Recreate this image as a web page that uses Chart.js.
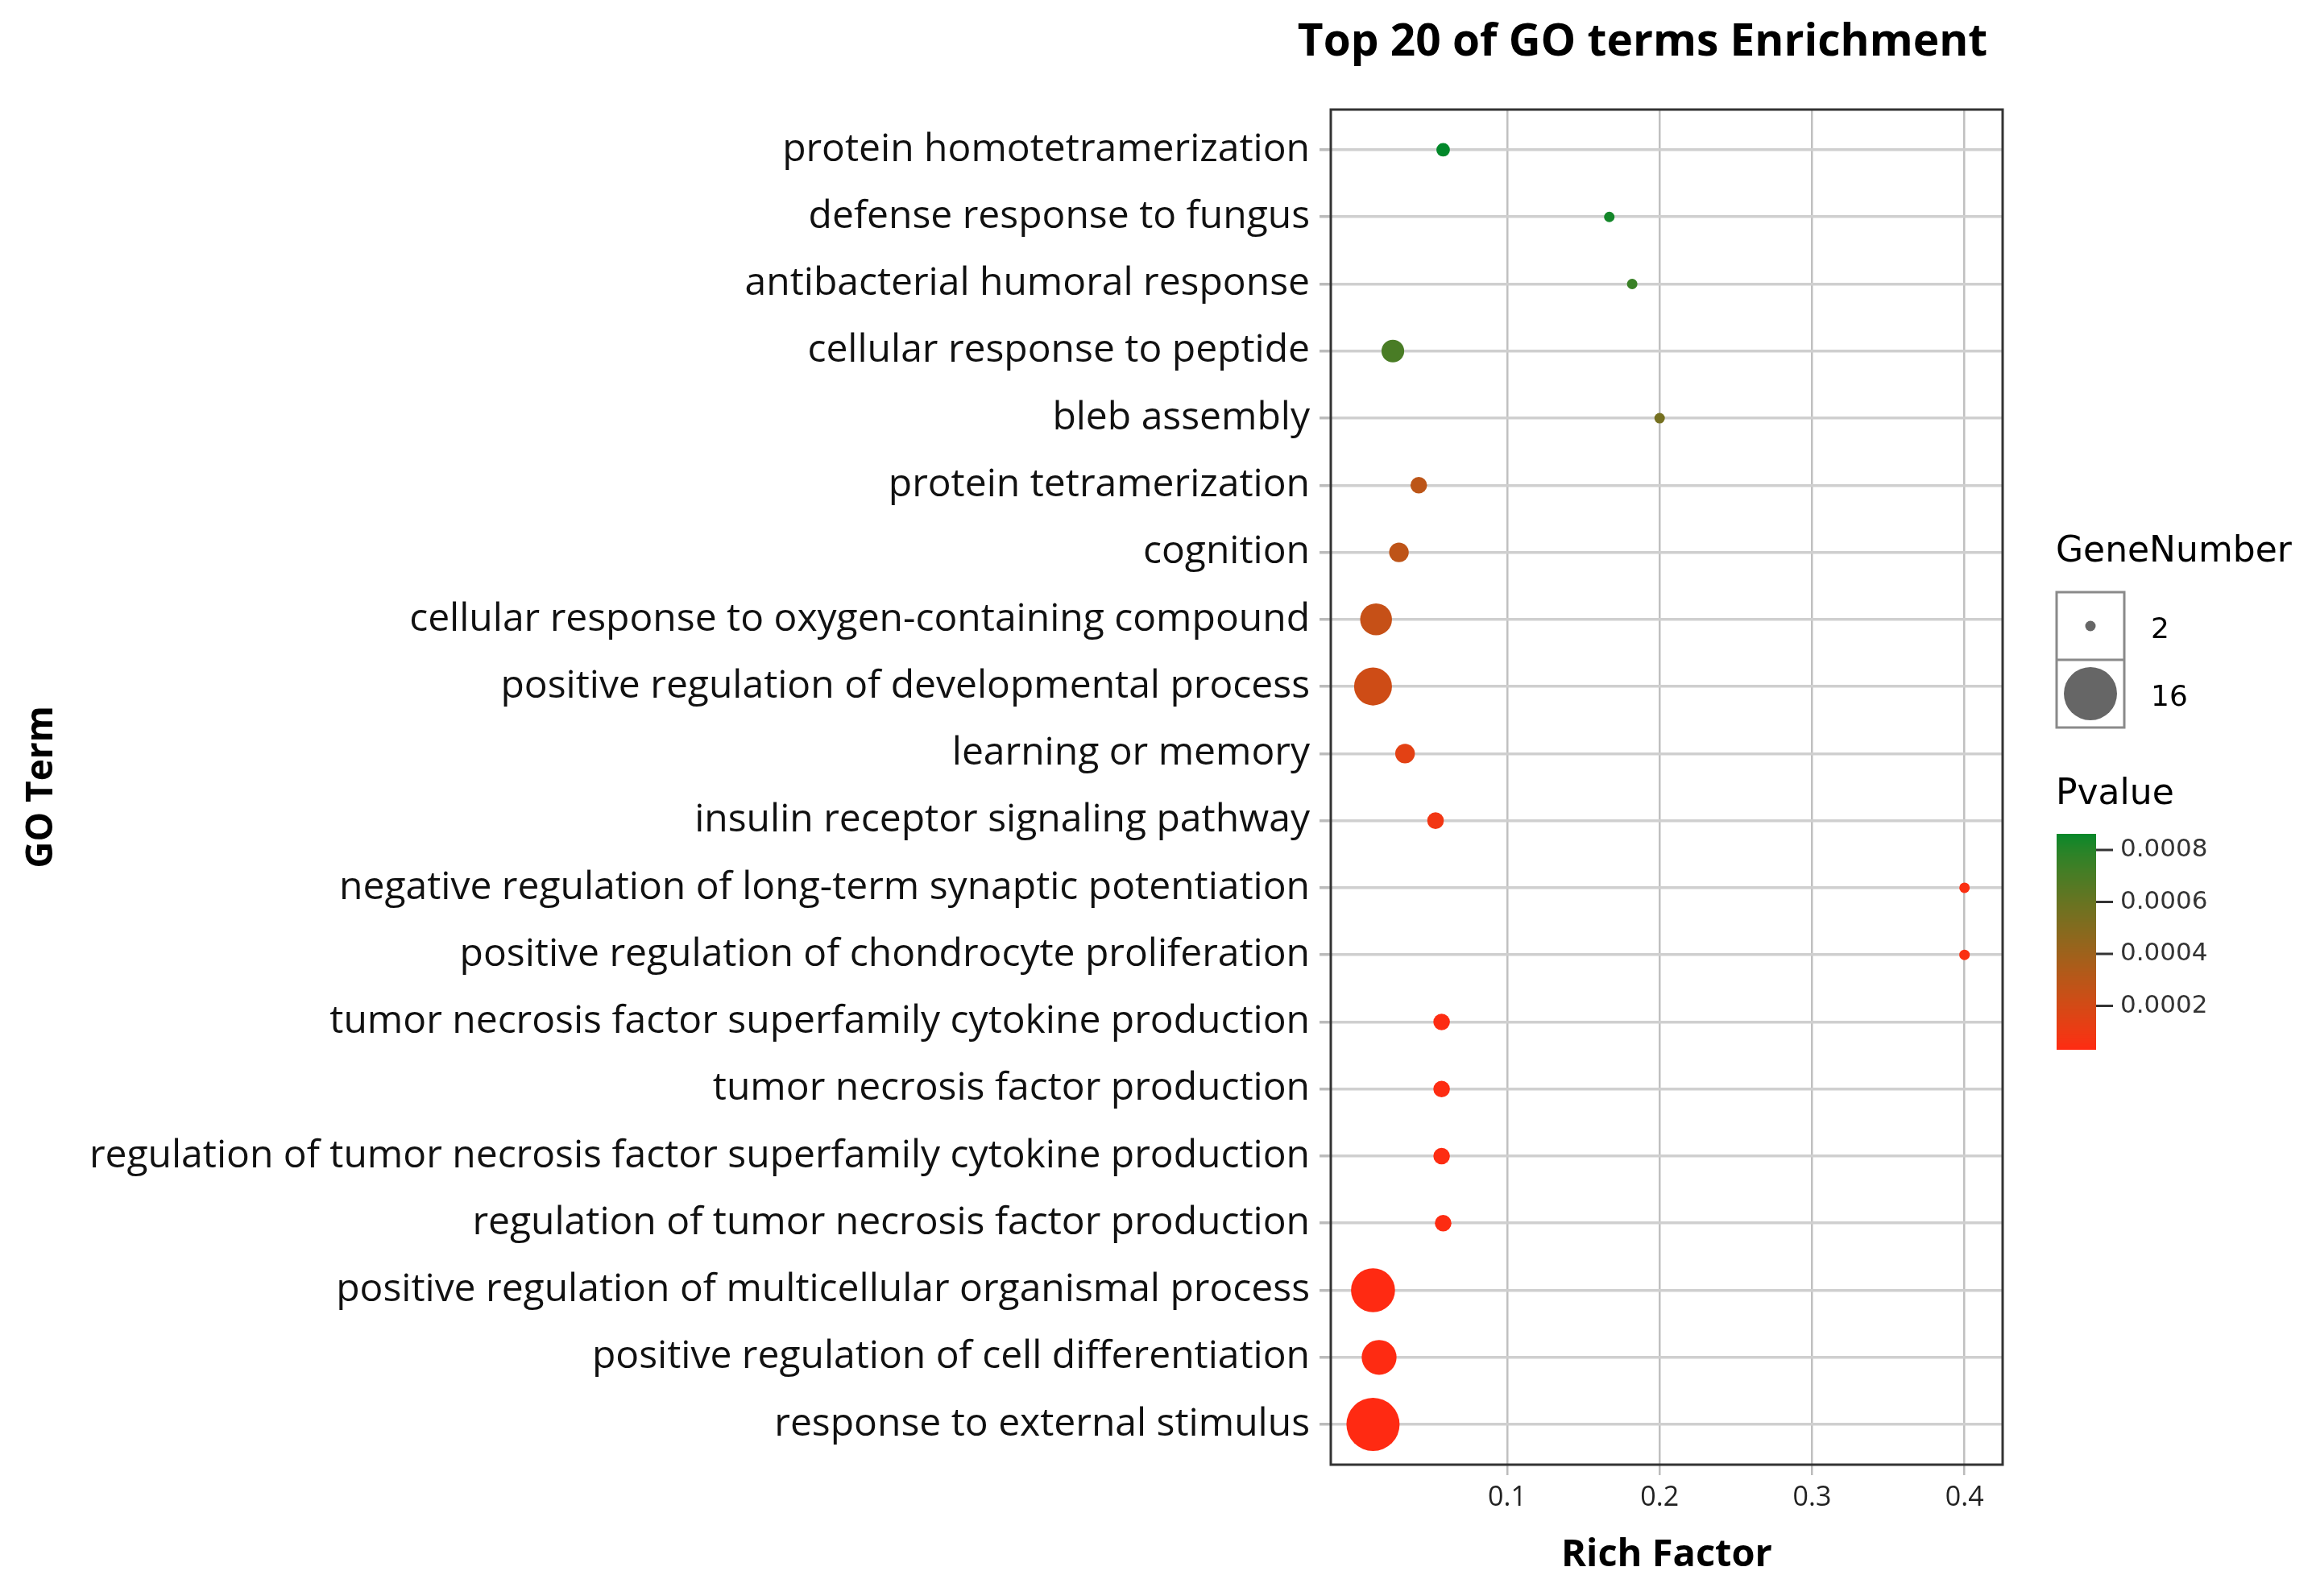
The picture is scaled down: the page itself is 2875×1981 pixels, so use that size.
<!DOCTYPE html>
<html>
<head>
<meta charset="utf-8">
<script src="https://cdn.jsdelivr.net/npm/chart.js@4.4.0/dist/chart.umd.min.js"></script>
<style>
  body { margin: 0; background: #fff; }
  canvas { display: block; }
</style>
</head>
<body>
<canvas id="goChart" width="2875" height="1981"></canvas>
<script>
// GO terms, top to bottom
const terms = [
  "protein homotetramerization",
  "defense response to fungus",
  "antibacterial humoral response",
  "cellular response to peptide",
  "bleb assembly",
  "protein tetramerization",
  "cognition",
  "cellular response to oxygen-containing compound",
  "positive regulation of developmental process",
  "learning or memory",
  "insulin receptor signaling pathway",
  "negative regulation of long-term synaptic potentiation",
  "positive regulation of chondrocyte proliferation",
  "tumor necrosis factor superfamily cytokine production",
  "tumor necrosis factor production",
  "regulation of tumor necrosis factor superfamily cytokine production",
  "regulation of tumor necrosis factor production",
  "positive regulation of multicellular organismal process",
  "positive regulation of cell differentiation",
  "response to external stimulus"
];
const richFactor = [0.058, 0.167, 0.182, 0.025, 0.2, 0.042, 0.029, 0.014, 0.012, 0.033,
  0.053, 0.4, 0.4, 0.057, 0.057, 0.057, 0.058, 0.012, 0.016, 0.012];
const geneNumber = [3, 2, 2, 6, 2, 4, 5, 9, 11, 5, 4, 2, 2, 4, 4, 4, 4, 13, 10, 16];
const pValue = [0.00086, 0.00084, 0.00075, 0.0007, 0.00055, 0.00029, 0.00028, 0.00025, 0.00022, 0.00014,
  0.00008, 0.00005, 0.00005, 0.00004, 0.00004, 0.00004, 0.00004, 0.000031, 0.000035, 0.000031];

const xTicks = [0.1, 0.2, 0.3, 0.4];
const pTicks = [0.0002, 0.0004, 0.0006, 0.0008];
const sizeBreaks = [2, 16];
const pMin = 0.000031, pMax = 0.000862;

// size scale: diameter from 13px (2 genes) to 66px (16 genes)
function radius(n) {
  return (13 + 53 * (n - 2) / 14) / 2;
}

// colour gradient red -> green (mix of Lab and plain rgb blending)
function hexRgb(h) {
  return [parseInt(h.slice(1, 3), 16), parseInt(h.slice(3, 5), 16), parseInt(h.slice(5, 7), 16)];
}
function toLin(c) { c /= 255; return c <= 0.04045 ? c / 12.92 : Math.pow((c + 0.055) / 1.055, 2.4); }
function fromLin(c) {
  c = c <= 0.0031308 ? 12.92 * c : 1.055 * Math.pow(c, 1 / 2.4) - 0.055;
  return Math.max(0, Math.min(255, c * 255));
}
function rgbLab(rgb) {
  const [r, g, b] = rgb.map(toLin);
  let x = (0.4124 * r + 0.3576 * g + 0.1805 * b) / 0.95047;
  let y = 0.2126 * r + 0.7152 * g + 0.0722 * b;
  let z = (0.0193 * r + 0.1192 * g + 0.9505 * b) / 1.08883;
  const f = t => t > 0.008856 ? Math.cbrt(t) : 7.787 * t + 16 / 116;
  x = f(x); y = f(y); z = f(z);
  return [116 * y - 16, 500 * (x - y), 200 * (y - z)];
}
function labRgb(lab) {
  const fy = (lab[0] + 16) / 116, fx = fy + lab[1] / 500, fz = fy - lab[2] / 200;
  const inv = t => t * t * t > 0.008856 ? t * t * t : (t - 16 / 116) / 7.787;
  const x = inv(fx) * 0.95047, y = inv(fy), z = inv(fz) * 1.08883;
  const r = 3.2406 * x - 1.5372 * y - 0.4986 * z;
  const g = -0.9689 * x + 1.8758 * y + 0.0415 * z;
  const b = 0.0557 * x - 0.2040 * y + 1.0570 * z;
  return [fromLin(r), fromLin(g), fromLin(b)];
}
const lowRgb = hexRgb("#ff2a12"), highRgb = hexRgb("#00882a");
const lowLab = rgbLab(lowRgb), highLab = rgbLab(highRgb);
function pColor(p) {
  const t = Math.max(0, Math.min(1, (p - pMin) / (pMax - pMin)));
  const viaLab = labRgb(lowLab.map((v, i) => v + (highLab[i] - v) * t));
  const mix = lowRgb.map((v, i) => Math.round((v + (highRgb[i] - v) * t + viaLab[i]) / 2));
  return "rgb(" + mix.join(",") + ")";
}

// title, panel border and legends
const decor = {
  id: "decor",
  afterDatasetsDraw(chart) {
    const { ctx, chartArea: a } = chart;
    ctx.save();
    ctx.strokeStyle = "#333";
    ctx.lineWidth = 3;
    ctx.strokeRect(a.left, a.top, a.right - a.left, a.bottom - a.top);
    ctx.restore();
  },
  afterDraw(chart) {
    const ctx = chart.ctx;
    ctx.save();
    ctx.fillStyle = "#000";
    ctx.textBaseline = "middle";
    ctx.textAlign = "center";
    ctx.font = "bold 55px 'Open Sans'";
    ctx.fillText("Top 20 of GO terms Enrichment", 2039, 53);

    // GeneNumber legend
    ctx.textAlign = "left";
    ctx.font = "44px 'DejaVu Sans'";
    ctx.fillText("GeneNumber", 2552, 686);
    const boxX = 2553, boxY = 735, cell = 84;
    ctx.strokeStyle = "#8a8a8a";
    ctx.lineWidth = 3;
    ctx.strokeRect(boxX, boxY, cell, cell * 2);
    ctx.beginPath();
    ctx.moveTo(boxX, boxY + cell);
    ctx.lineTo(boxX + cell, boxY + cell);
    ctx.stroke();
    ctx.font = "36px 'DejaVu Sans'";
    sizeBreaks.forEach((n, i) => {
      const cy = boxY + cell * i + cell / 2;
      ctx.fillStyle = "#666";
      ctx.beginPath();
      ctx.arc(boxX + cell / 2, cy, radius(n), 0, Math.PI * 2);
      ctx.fill();
      ctx.fillStyle = "#000";
      ctx.fillText(String(n), 2670, cy + 6);
    });

    // Pvalue colour bar
    ctx.font = "44px 'DejaVu Sans'";
    ctx.fillText("Pvalue", 2552, 987);
    const barX = 2553, barW = 49, barTop = 1035, barBottom = 1303;
    const yOf = p => barBottom - (p - pMin) / (pMax - pMin) * (barBottom - barTop);
    for (let y = barTop; y < barBottom; y++) {
      const p = pMin + (barBottom - y - 0.5) / (barBottom - barTop) * (pMax - pMin);
      ctx.fillStyle = pColor(p);
      ctx.fillRect(barX, y, barW, 1);
    }
    ctx.font = "31px 'DejaVu Sans'";
    ctx.strokeStyle = "#333";
    ctx.lineWidth = 3;
    pTicks.forEach(p => {
      const y = yOf(p);
      ctx.beginPath();
      ctx.moveTo(barX + barW, y);
      ctx.lineTo(barX + barW + 21, y);
      ctx.stroke();
      ctx.fillStyle = "#333";
      ctx.fillText(p.toFixed(4), 2632, y);
    });
    ctx.restore();
  }
};

const ctx = document.getElementById("goChart").getContext("2d");
new Chart(ctx, {
  type: "bubble",
  data: {
    datasets: [{
      data: terms.map((t, i) => ({ x: richFactor[i], y: i, r: radius(geneNumber[i]) })),
      backgroundColor: pValue.map(pColor),
      borderWidth: 0,
      hoverRadius: 0
    }]
  },
  options: {
    responsive: false,
    devicePixelRatio: 1,
    animation: false,
    events: [],
    layout: { padding: { left: 0, top: 136, right: 389, bottom: 0 } },
    plugins: { legend: { display: false }, tooltip: { enabled: false } },
    scales: {
      x: {
        type: "linear",
        min: -0.0157,
        max: 0.425,
        afterBuildTicks: s => { s.ticks = xTicks.map(v => ({ value: v })); },
        afterFit: s => { s.height = 163; },
        grid: { color: "#c0c0c0", lineWidth: 2.5, tickLength: 13, tickColor: "#bbb" },
        border: { display: false },
        ticks: {
          font: { family: "Open Sans", size: 34 },
          color: "#222",
          padding: 8,
          callback: v => String(v)
        },
        title: {
          display: true,
          text: "Rich Factor",
          font: { family: "Open Sans", size: 47, weight: "bold" },
          color: "#000",
          padding: { top: 0, bottom: 22 }
        }
      },
      y: {
        type: "linear",
        reverse: true,
        min: -0.6,
        max: 19.6,
        afterBuildTicks: s => { s.ticks = terms.map((t, i) => ({ value: i })); },
        afterFit: s => { s.width = 1652; },
        grid: { color: "#cfcfcf", lineWidth: 3.5, tickLength: 14, tickColor: "#bbb" },
        border: { display: false },
        ticks: {
          autoSkip: false,
          font: { family: "Open Sans", size: 48 },
          color: "#111",
          padding: 12,
          callback: (v, i) => terms[i]
        },
        title: {
          display: true,
          text: "GO Term",
          font: { family: "Open Sans", size: 46, weight: "bold" },
          color: "#000",
          padding: { top: 24, bottom: 0 }
        }
      }
    }
  },
  plugins: [decor]
});
</script>
</body>
</html>
